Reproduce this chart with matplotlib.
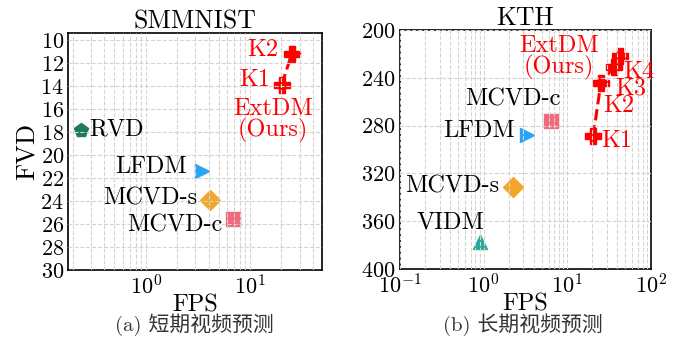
import numpy as np
import matplotlib
matplotlib.use("Agg")
import matplotlib.pyplot as plt

plt.rcParams['font.family'] = ['cmr10', 'Noto Sans CJK SC', 'DejaVu Sans']
plt.rcParams['mathtext.fontset'] = 'cm'
plt.rcParams['axes.formatter.use_mathtext'] = True
plt.rcParams['axes.unicode_minus'] = False

# SMMNIST (short-term)
s_names = ["RVD", "LFDM", "MCVD-s", "MCVD-c"]
s_fps = [0.238, 3.44, 4.14, 6.9]
s_fvd = [17.8, 21.4, 23.9, 25.6]
s_ext_fps = [20.1, 25.1]
s_ext_fvd = [13.9, 11.2]
s_ext_labels = ["K1", "K2"]

# KTH (long-term)
k_names = ["MCVD-c", "LFDM", "MCVD-s", "VIDM"]
k_fps = [6.4, 3.33, 2.27, 0.905]
k_fvd = [276.5, 288.0, 331.0, 377.0]
k_ext_fps = [20.5, 25.4, 36.3, 42.8]
k_ext_fvd = [289.0, 244.0, 231.0, 222.0]
k_ext_labels = ["K1", "K2", "K3", "K4"]

styles = {
    "RVD": ("p", "#1e7b5c", 10.5),
    "LFDM": (">", "#2aa4f4", 10.5),
    "MCVD-s": ("D", "#f5a62a", 10.5),
    "MCVD-c": ("s", "#f2687c", 10.5),
    "VIDM": ("^", "#2aa89c", 10.5),
}
RED = "#ff0000"
FS = 17.5


def setup(ax):
    ax.set_xscale('log')
    ax.set_axisbelow(False)
    ax.grid(True, which='both', axis='x', color='#d4d4d4', linestyle='--', linewidth=0.8)
    ax.grid(True, which='major', axis='y', color='#d4d4d4', linestyle='--', linewidth=0.8)
    ax.tick_params(which='both', length=0, labelsize=16, pad=3)
    for sp in ax.spines.values():
        sp.set_linewidth(1.2)


fig = plt.figure(figsize=(6.81, 3.41), dpi=100)

# left panel
ax1 = fig.add_axes([0.0999, 0.208, 0.373, 0.695])
setup(ax1)
for n, x, y in zip(s_names, s_fps, s_fvd):
    m, c, ms = styles[n]
    ax1.plot([x], [y], marker=m, color=c, markersize=ms, linestyle='none', zorder=2)
ax1.plot(s_ext_fps, s_ext_fvd, color=RED, linestyle='--', linewidth=2.2, zorder=2)
ax1.plot(s_ext_fps, s_ext_fvd, marker='P', color=RED, markersize=12, linestyle='none', zorder=2)

s_offsets = {"RVD": (6.5, 0, 'left'), "LFDM": (-10.5, 3, 'right'),
             "MCVD-s": (-9.5, 1.4, 'right'), "MCVD-c": (-8, -4, 'right')}
for n, x, y in zip(s_names, s_fps, s_fvd):
    dx, dy, ha = s_offsets[n]
    ax1.annotate(n, (x, y), xytext=(dx, dy), textcoords='offset points',
                 ha=ha, va='center', fontsize=FS)
for lab, x, y, off in zip(s_ext_labels, s_ext_fps, s_ext_fvd, [(-8.4, 3.6), (-9.9, 3)]):
    ax1.annotate(lab, (x, y), xytext=off, textcoords='offset points',
                 ha='right', va='center', fontsize=FS, color=RED)
ax1.annotate("ExtDM\n(Ours)", (s_ext_fps[0], s_ext_fvd[0]), xytext=(-6.3, -25.5),
             textcoords='offset points', ha='center', va='center', fontsize=FS,
             color=RED, linespacing=0.9)

ax1.set_xlim(0.18, 49)
ax1.set_ylim(30, 9.4)
ax1.set_yticks(np.arange(10, 31, 2))
ax1.set_title("SMMNIST", fontsize=18.5, pad=3)
ax1.set_xlabel("FPS", fontsize=17.5, labelpad=-3)
ax1.set_ylabel("FVD", fontsize=19, labelpad=1)

# right panel
ax2 = fig.add_axes([0.5874, 0.211, 0.368, 0.701])
setup(ax2)
for n, x, y in zip(k_names, k_fps, k_fvd):
    m, c, ms = styles[n]
    ax2.plot([x], [y], marker=m, color=c, markersize=ms, linestyle='none', zorder=2)
ax2.plot(k_ext_fps, k_ext_fvd, color=RED, linestyle='--', linewidth=2.2, zorder=2)
ax2.plot(k_ext_fps, k_ext_fvd, marker='P', color=RED, markersize=12, linestyle='none', zorder=2)

k_offsets = {"MCVD-c": (-27.5, 16.2, 'center'), "LFDM": (-8.9, 3, 'right'),
             "MCVD-s": (-10, 0, 'right'), "VIDM": (-21, 14, 'center')}
for n, x, y in zip(k_names, k_fps, k_fvd):
    dx, dy, ha = k_offsets[n]
    ax2.annotate(n, (x, y), xytext=(dx, dy), textcoords='offset points',
                 ha=ha, va='center', fontsize=FS)
k_lab_off = [(6, -3), (1.4, -16.6), (1.2, -15.6), (2.4, -11.4)]
for lab, x, y, off in zip(k_ext_labels, k_ext_fps, k_ext_fvd, k_lab_off):
    ax2.annotate(lab, (x, y), xytext=off, textcoords='offset points',
                 ha='left', va='center', fontsize=FS, color=RED)
ax2.annotate("ExtDM\n(Ours)", (k_ext_fps[3], k_ext_fvd[3]), xytext=(-44, -0.7),
             textcoords='offset points', ha='center', va='center', fontsize=FS,
             color=RED, linespacing=0.9)

ax2.set_xlim(0.1, 100)
ax2.set_ylim(400, 200)
ax2.set_yticks(np.arange(200, 401, 40))
ax2.set_title("KTH", fontsize=18.5, pad=3)
ax2.set_xlabel("FPS", fontsize=17.5, labelpad=-3)

fig.text(0.285, 0.047, "(a) 短期视频预测", ha='center', va='center', fontsize=15, color='#333333')
fig.text(0.768, 0.047, "(b) 长期视频预测", ha='center', va='center', fontsize=15, color='#333333')

fig.savefig("out.png", dpi=100)
